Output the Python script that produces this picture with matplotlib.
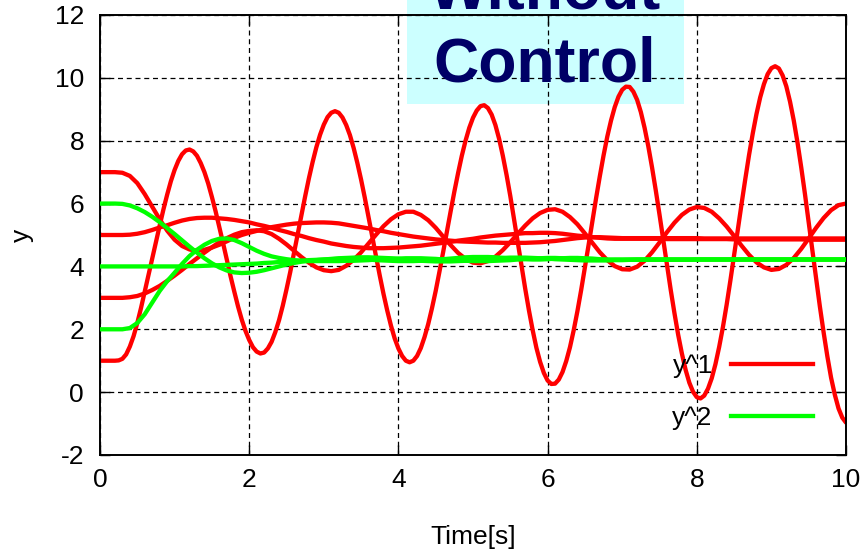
import numpy as np
import matplotlib
matplotlib.use("Agg")
import matplotlib.pyplot as plt
from matplotlib.patches import Rectangle
from matplotlib.lines import Line2D

plt.rcParams['font.family'] = ['Liberation Sans', 'DejaVu Sans']
plt.rcParams['axes.unicode_minus'] = False

# sample times [s]
time_s = np.linspace(0.0, 10.0, 101)
time_fine = np.linspace(0.0, 10.0, 201)

# y^1 responses (one run per initial value); the fast run is sampled finer
y1_from_1 = [
    1.00, 1.00, 1.00, 1.00, 1.00, 1.01, 1.06, 1.20, 1.45, 1.78,
    2.20, 2.68, 3.20, 3.72, 4.25, 4.78, 5.30, 5.81, 6.28, 6.71,
    7.07, 7.36, 7.57, 7.69, 7.72, 7.66, 7.52, 7.29, 7.00, 6.64,
    6.21, 5.75, 5.25, 4.74, 4.21, 3.69, 3.20, 2.73, 2.31, 1.95,
    1.66, 1.43, 1.29, 1.23, 1.26, 1.39, 1.60, 1.91, 2.29, 2.75,
    3.27, 3.82, 4.42, 5.02, 5.63, 6.23, 6.80, 7.32, 7.79, 8.19,
    8.51, 8.75, 8.89, 8.94, 8.89, 8.74, 8.50, 8.18, 7.77, 7.29,
    6.76, 6.18, 5.57, 4.95, 4.32, 3.71, 3.13, 2.60, 2.12, 1.71,
    1.39, 1.15, 1.00, 0.95, 1.00, 1.15, 1.40, 1.75, 2.17, 2.67,
    3.22, 3.83, 4.46, 5.11, 5.75, 6.38, 6.97, 7.52, 8.00, 8.41,
    8.73, 8.96, 9.10, 9.13, 9.04, 8.83, 8.50, 8.06, 7.52, 6.91,
    6.24, 5.51, 4.77, 4.02, 3.29, 2.60, 1.97, 1.41, 0.96, 0.61,
    0.37, 0.26, 0.27, 0.40, 0.64, 0.99, 1.43, 1.97, 2.58, 3.25,
    3.96, 4.69, 5.44, 6.17, 6.87, 7.53, 8.13, 8.64, 9.07, 9.40,
    9.62, 9.72, 9.71, 9.56, 9.30, 8.91, 8.41, 7.82, 7.15, 6.42,
    5.65, 4.85, 4.04, 3.26, 2.52, 1.83, 1.23, 0.71, 0.30, 0.01,
    -0.16, -0.20, -0.11, 0.11, 0.44, 0.89, 1.44, 2.07, 2.78, 3.55,
    4.35, 5.17, 5.99, 6.78, 7.54, 8.23, 8.85, 9.38, 9.80, 10.12,
    10.31, 10.37, 10.30, 10.08, 9.73, 9.24, 8.64, 7.94, 7.15, 6.30,
    5.41, 4.50, 3.60, 2.72, 1.90, 1.14, 0.46, -0.08, -0.52, -0.81,
    -0.97]

y1_from_3 = [
    3.00, 3.00, 3.00, 3.00, 3.02, 3.06, 3.14, 3.25, 3.38, 3.54,
    3.71, 3.89, 4.08, 4.26, 4.44, 4.61, 4.77, 4.90, 5.01, 5.09,
    5.13, 5.15, 5.12, 5.03, 4.88, 4.70, 4.50, 4.30, 4.12, 3.97,
    3.88, 3.85, 3.89, 4.02, 4.21, 4.45, 4.73, 5.01, 5.28, 5.50,
    5.66, 5.74, 5.74, 5.64, 5.47, 5.23, 4.95, 4.68, 4.43, 4.24,
    4.12, 4.10, 4.17, 4.31, 4.52, 4.77, 5.04, 5.30, 5.53, 5.70,
    5.80, 5.82, 5.74, 5.57, 5.34, 5.05, 4.75, 4.45, 4.20, 4.01,
    3.91, 3.90, 3.99, 4.18, 4.45, 4.76, 5.09, 5.39, 5.64, 5.81,
    5.89, 5.86, 5.74, 5.53, 5.27, 4.97, 4.66, 4.37, 4.13, 3.97,
    3.89, 3.92, 4.05, 4.27, 4.56, 4.89, 5.23, 5.54, 5.79, 5.95,
    6.00]

y1_from_5 = [
    5.00, 5.00, 5.00, 5.00, 5.01, 5.04, 5.09, 5.16, 5.24, 5.31,
    5.39, 5.46, 5.51, 5.54, 5.55, 5.55, 5.53, 5.51, 5.48, 5.44,
    5.40, 5.34, 5.29, 5.23, 5.16, 5.10, 5.03, 4.97, 4.90, 4.84,
    4.79, 4.73, 4.69, 4.65, 4.62, 4.60, 4.58, 4.58, 4.58, 4.59,
    4.60, 4.62, 4.64, 4.66, 4.69, 4.72, 4.75, 4.78, 4.82, 4.85,
    4.88, 4.92, 4.95, 4.98, 5.00, 5.02, 5.04, 5.06, 5.06, 5.07,
    5.07, 5.06, 5.04, 5.01, 4.98, 4.96, 4.93, 4.91, 4.89, 4.88,
    4.88, 4.88, 4.88, 4.88, 4.88, 4.88, 4.87, 4.87, 4.87, 4.87,
    4.87, 4.87, 4.87, 4.87, 4.87, 4.86, 4.86, 4.86, 4.86, 4.86,
    4.86, 4.86, 4.86, 4.86, 4.86, 4.85, 4.85, 4.85, 4.85, 4.85,
    4.85]

y1_from_7 = [
    7.00, 7.00, 7.00, 6.98, 6.88, 6.65, 6.30, 5.90, 5.50, 5.14,
    4.85, 4.65, 4.54, 4.50, 4.53, 4.60, 4.69, 4.80, 4.91, 5.00,
    5.07, 5.13, 5.19, 5.25, 5.29, 5.33, 5.36, 5.38, 5.39, 5.40,
    5.40, 5.39, 5.37, 5.33, 5.29, 5.25, 5.21, 5.16, 5.12, 5.07,
    5.03, 4.99, 4.95, 4.92, 4.89, 4.86, 4.84, 4.82, 4.80, 4.79,
    4.78, 4.77, 4.76, 4.76, 4.75, 4.75, 4.75, 4.75, 4.76, 4.77,
    4.79, 4.81, 4.84, 4.87, 4.90, 4.92, 4.93, 4.93, 4.92, 4.91,
    4.90, 4.90, 4.90, 4.90, 4.90, 4.90, 4.90, 4.90, 4.90, 4.90,
    4.90, 4.89, 4.89, 4.89, 4.89, 4.89, 4.89, 4.89, 4.89, 4.89,
    4.89, 4.89, 4.89, 4.89, 4.89, 4.89, 4.89, 4.89, 4.89, 4.89,
    4.89]

# y^2 responses
y2_from_2 = [
    2.00, 2.00, 2.00, 2.00, 2.04, 2.20, 2.48, 2.85, 3.22, 3.53,
    3.80, 4.08, 4.33, 4.53, 4.69, 4.81, 4.88, 4.89, 4.84, 4.74,
    4.62, 4.50, 4.40, 4.32, 4.27, 4.23, 4.20, 4.18, 4.17, 4.17,
    4.17, 4.17, 4.17, 4.18, 4.18, 4.19, 4.20, 4.22, 4.23, 4.24,
    4.25, 4.26, 4.26, 4.26, 4.25, 4.24, 4.22, 4.21, 4.19, 4.18,
    4.17, 4.17, 4.17, 4.18, 4.19, 4.20, 4.22, 4.24, 4.25, 4.26,
    4.27, 4.27, 4.26, 4.25, 4.23, 4.22, 4.21, 4.21, 4.21, 4.22,
    4.22, 4.22, 4.22, 4.22, 4.22, 4.22, 4.22, 4.22, 4.22, 4.22,
    4.22, 4.22, 4.22, 4.22, 4.22, 4.22, 4.22, 4.22, 4.22, 4.22,
    4.22, 4.22, 4.22, 4.22, 4.22, 4.22, 4.22, 4.22, 4.22, 4.22,
    4.22]

y2_from_4 = [
    4.00, 4.00, 4.00, 4.00, 4.00, 4.00, 4.00, 4.00, 4.00, 4.00,
    4.00, 4.00, 4.01, 4.01, 4.02, 4.03, 4.04, 4.05, 4.06, 4.07,
    4.08, 4.09, 4.11, 4.12, 4.14, 4.15, 4.17, 4.18, 4.20, 4.21,
    4.22, 4.24, 4.26, 4.27, 4.28, 4.29, 4.29, 4.28, 4.27, 4.26,
    4.24, 4.22, 4.20, 4.18, 4.17, 4.16, 4.16, 4.16, 4.17, 4.18,
    4.20, 4.22, 4.24, 4.26, 4.27, 4.28, 4.28, 4.28, 4.27, 4.26,
    4.25, 4.23, 4.22, 4.21, 4.20, 4.19, 4.19, 4.19, 4.19, 4.20,
    4.20, 4.21, 4.21, 4.21, 4.21, 4.21, 4.21, 4.21, 4.21, 4.21,
    4.22, 4.22, 4.22, 4.22, 4.22, 4.22, 4.22, 4.22, 4.22, 4.22,
    4.22, 4.22, 4.22, 4.22, 4.22, 4.22, 4.22, 4.22, 4.22, 4.22,
    4.22]

y2_from_6 = [
    6.00, 6.00, 6.00, 5.99, 5.94, 5.85, 5.73, 5.58, 5.41, 5.22,
    5.03, 4.83, 4.63, 4.44, 4.26, 4.10, 3.97, 3.87, 3.81, 3.79,
    3.80, 3.83, 3.88, 3.94, 4.00, 4.06, 4.11, 4.15, 4.18, 4.20,
    4.22, 4.23, 4.24, 4.24, 4.24, 4.23, 4.22, 4.20, 4.19, 4.18,
    4.17, 4.17, 4.17, 4.18, 4.19, 4.21, 4.23, 4.25, 4.27, 4.29,
    4.30, 4.30, 4.30, 4.29, 4.27, 4.25, 4.24, 4.23, 4.22, 4.22,
    4.23, 4.25, 4.26, 4.27, 4.27, 4.26, 4.25, 4.23, 4.22, 4.21,
    4.21, 4.21, 4.22, 4.22, 4.22, 4.22, 4.22, 4.22, 4.22, 4.22,
    4.22, 4.22, 4.22, 4.22, 4.22, 4.22, 4.22, 4.22, 4.22, 4.22,
    4.22, 4.22, 4.22, 4.22, 4.22, 4.22, 4.22, 4.22, 4.22, 4.22,
    4.22]

y1_runs = [(time_fine, y1_from_1), (time_s, y1_from_3),
           (time_s, y1_from_5), (time_s, y1_from_7)]
y2_runs = [(time_s, y2_from_2), (time_s, y2_from_4), (time_s, y2_from_6)]
series_labels = ["y^1", "y^2"]
series_colors = ["#ff0000", "#00ff00"]

x_ticks = [0, 2, 4, 6, 8, 10]
y_ticks = [-2, 0, 2, 4, 6, 8, 10, 12]
title_text = "Without\nControl"

W, H = 866, 555
fig = plt.figure(figsize=(W / 100, H / 100), dpi=100, facecolor="white")
ax = fig.add_axes([100 / W, 100 / H, 746 / W, 440 / H])
ax.set_facecolor("none")

# boxed title label behind the plot frame
box = Rectangle((407 / W, (H - 104) / H), 277 / W, 104 / H,
                transform=fig.transFigure, facecolor="#ccffff",
                edgecolor="none", zorder=-1)
fig.add_artist(box)

lw = 3.1
for tt, run in y1_runs:
    ax.plot(tt, run, color=series_colors[0], lw=lw,
            solid_joinstyle="round", solid_capstyle="round", zorder=2)
for tt, run in y2_runs:
    ax.plot(tt, run, color=series_colors[1], lw=lw,
            solid_joinstyle="round", solid_capstyle="round", zorder=3)

ax.set_xlim(0, 10)
ax.set_ylim(-2, 12)
ax.set_xticks(x_ticks)
ax.set_yticks(y_ticks)
ax.set_axisbelow(True)
ax.grid(True, color="black", linestyle=(0, (4, 3)), linewidth=0.9)

for s in ax.spines.values():
    s.set_linewidth(1.4)
    s.set_color("black")

ax.tick_params(axis="both", direction="in", length=7.5, width=1.0,
               top=True, right=True, labelsize=19, colors="black")
ax.tick_params(axis="x", pad=9.5)
ax.tick_params(axis="y", pad=11.5)

ax.set_xlabel("Time[s]", fontsize=19, va="center")
ax.xaxis.set_label_coords(0.5, (455 - 537) / 440)
ax.set_ylabel("y", fontsize=19, va="center", ha="center")
ax.yaxis.set_label_coords((22 - 100) / 746, 0.5)

handles = [Line2D([], [], color=c, lw=lw) for c in series_colors]
ax.legend(handles, series_labels, loc="lower right",
          bbox_to_anchor=(0.9558, 0.057), frameon=False, markerfirst=False,
          fontsize=19, handlelength=3.1, handletextpad=0.7,
          labelspacing=1.05, borderpad=0, borderaxespad=0)

fig.text(545 / W, (H - 82) / H, title_text, ha="center", va="baseline",
         fontsize=45, fontweight="bold", color="#000066",
         linespacing=1.32, zorder=5)

fig.savefig("out.png", dpi=100, facecolor="white")
